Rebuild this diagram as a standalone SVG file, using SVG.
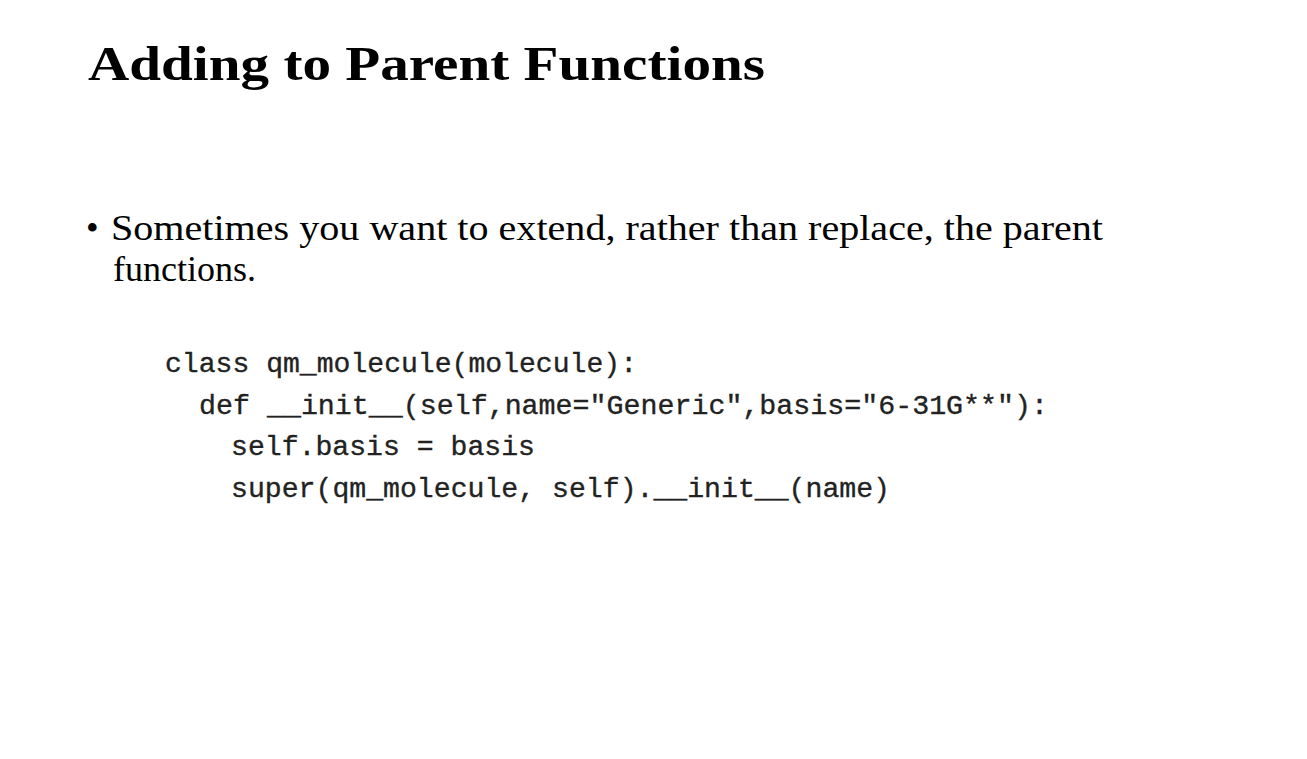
<svg xmlns="http://www.w3.org/2000/svg" width="1307" height="759" viewBox="0 0 1307 759">
<style>
.title{font-family:"Liberation Serif",serif;font-weight:bold;font-size:49px;fill:#000}
.body{font-family:"Liberation Serif",serif;font-size:36px;fill:#000}
.code{font-family:"Liberation Mono","Courier New",monospace;font-size:28.2px;fill:#222;stroke:#222;stroke-width:0.35px}
</style>
<rect width="1307" height="759" fill="#fff"/>
<text class="title" x="88" y="80" textLength="677" lengthAdjust="spacingAndGlyphs">Adding to Parent Functions</text>
<text class="body" x="86" y="240">•</text>
<text class="body" x="111" y="240" textLength="992" lengthAdjust="spacingAndGlyphs">Sometimes you want to extend, rather than replace, the parent</text>
<text class="body" x="113" y="281">functions.</text>
<g class="code">
<text x="165" y="372" textLength="472" lengthAdjust="spacingAndGlyphs">class qm_molecule(molecule):</text>
<text x="199" y="414" textLength="849" lengthAdjust="spacingAndGlyphs">def __init__(self,name="Generic",basis="6-31G**"):</text>
<text x="231" y="455" textLength="304" lengthAdjust="spacingAndGlyphs">self.basis = basis</text>
<text x="231" y="497" textLength="659" lengthAdjust="spacingAndGlyphs">super(qm_molecule, self).__init__(name)</text>
</g>
</svg>
